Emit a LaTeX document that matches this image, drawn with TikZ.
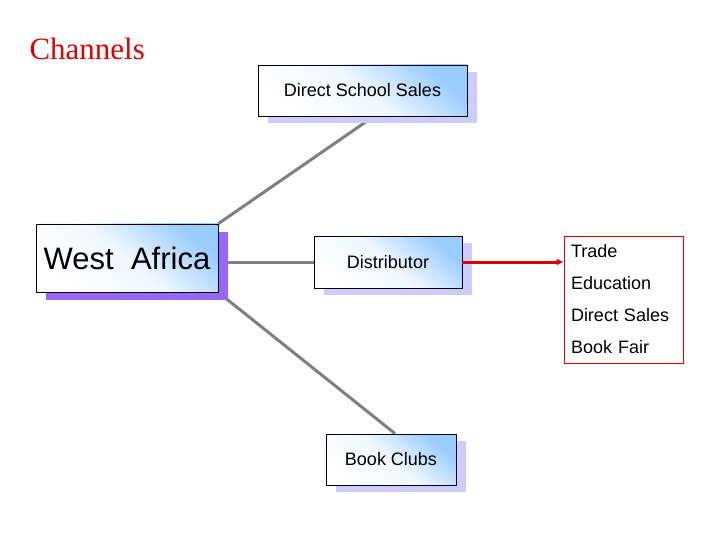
\documentclass[tikz,border=0pt]{standalone}
\usepackage{fontspec}
\setmainfont{Liberation Sans}
\newfontfamily\titlefont{Liberation Serif}
\usepackage{tikz}
\usetikzlibrary{arrows.meta, shadows, backgrounds, positioning}
\pgfdeclarelayer{foreground}
\pgfsetlayers{background,main,foreground}

\definecolor{skyfill}{HTML}{99CCFF}
\definecolor{purpleshade}{HTML}{9966FF}
\definecolor{lilacshade}{HTML}{CCCCFF}
\definecolor{linkgray}{HTML}{808080}
\definecolor{salered}{HTML}{DD0000}

\begin{document}
\begin{tikzpicture}[x=1pt, y=-1pt,
        % Define styles for the nodes
        base_box/.style={rectangle, draw=black, line width=0.8pt, inner sep=0pt, align=center,
            top color=skyfill, bottom color=white, middle color=white!85!skyfill, shading angle=-40},
        region_box/.style={base_box, minimum width=182pt, minimum height=68pt, font=\fontsize{31}{36}\selectfont,
            drop shadow={fill=purpleshade, opacity=1, shadow xshift=10pt, shadow yshift=-8pt}},
        channel_box/.style={base_box, font=\fontsize{18}{22}\selectfont,
            drop shadow={fill=lilacshade, opacity=1, shadow xshift=10pt, shadow yshift=-7pt}},
        list_box/.style={rectangle, draw=salered, line width=0.7pt, align=left, inner xsep=7pt,
            minimum width=119pt, minimum height=127pt, text width=105pt, font=\fontsize{18}{32}\selectfont},
        % Styles for connectors
        link/.style={draw=linkgray, line width=3pt},
        sale_arrow/.style={draw=salered, line width=3pt, -{Latex[length=7pt, width=7pt]}}
    ]
    \useasboundingbox (0,0) rectangle (720,540);

    % title
    \node (title) [anchor=base west, text=salered, font=\titlefont\fontsize{31}{34}\selectfont] at (26,60) {Channels};

    % =========================================================================
    % REGION AND CHANNELS
    % =========================================================================
    \node (west) [region_box] at (127,258) {West\ \ Africa};

    \node (school) [channel_box, minimum width=209pt, minimum height=51pt] at (362.5,90.5) {Direct School Sales};
    \node (dist) [channel_box, minimum width=148pt, minimum height=52pt] at (388,262) {Distributor};
    \node (clubs) [channel_box, minimum width=130pt, minimum height=51pt] at (391,459.5) {Book Clubs};

    \node (outlets) [list_box] at (623.5,299.5) {Trade\\Education\\Direct Sales\\Book Fair};

    % =========================================================================
    % CONNECTORS
    % =========================================================================
    \begin{scope}[on background layer]
        \draw [link] (west.north east) -- ([xshift=4pt, yshift=-5pt]school.south);
        \draw [link] (dist.west) -- (dist.west -| west.east);
        \draw [link] (west.south east) -- ([xshift=4pt]clubs.north);
    \end{scope}

    \begin{pgfonlayer}{foreground}
        \draw [sale_arrow] (dist.east) -- (dist.east -| outlets.west);
    \end{pgfonlayer}

\end{tikzpicture}
\end{document}
